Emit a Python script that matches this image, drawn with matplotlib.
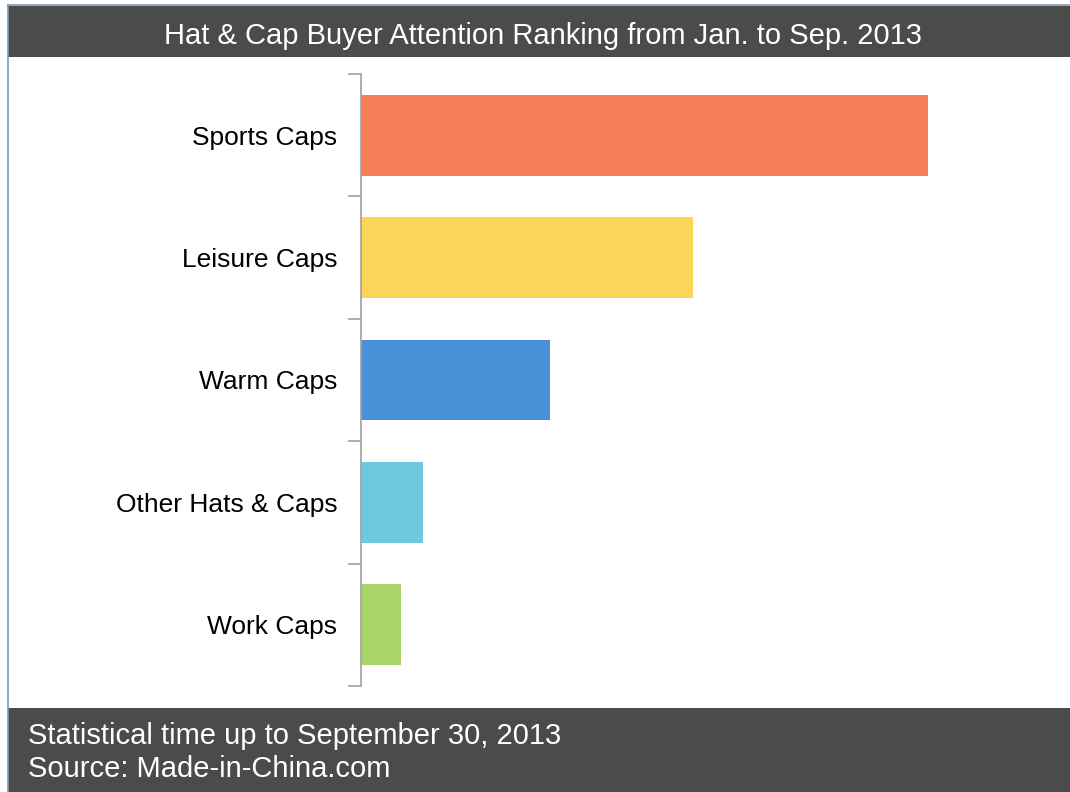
import matplotlib.pyplot as plt
from matplotlib.patches import Rectangle
from matplotlib.lines import Line2D
import numpy as np

plt.rcParams['font.family'] = ['Liberation Sans', 'DejaVu Sans']

categories = ['Sports Caps', 'Leisure Caps', 'Warm Caps', 'Other Hats & Caps', 'Work Caps']
attention = [567, 332, 189, 62, 40]
bar_colors = ['#F47F57', '#F9D65A', '#4A90D9', '#6EC8E0', '#A8D46A']

title = 'Hat & Cap Buyer Attention Ranking from Jan. to Sep. 2013'
footer = ['Statistical time up to September 30, 2013', 'Source: Made-in-China.com']

W, H = 1070, 792
fig = plt.figure(figsize=(W / 100, H / 100), dpi=100)
fig.patch.set_facecolor('white')

band = '#4B4B4B'
# header and footer bands
fig.patches.append(Rectangle((8 / W, 1 - 57 / H), 1, 51 / H, transform=fig.transFigure,
                             facecolor=band, edgecolor='none', zorder=0))
fig.patches.append(Rectangle((8 / W, 0), 1, 84 / H, transform=fig.transFigure,
                             facecolor=band, edgecolor='none', zorder=0))
fig.lines.append(Line2D([8 / W, 8 / W], [0, 1 - 5 / H], transform=fig.transFigure,
                        color='#7F97B8', lw=1.2))
fig.lines.append(Line2D([8 / W, 1], [1 - 5 / H, 1 - 5 / H], transform=fig.transFigure,
                        color='#7F97B8', lw=1.2))

fig.text(543 / W, 1 - 36 / H, title, color='white', fontsize=21,
         ha='center', va='center')
fig.text(28 / W, 1 - 736 / H, footer[0], color='white', fontsize=21, ha='left', va='center')
fig.text(28 / W, 1 - 769 / H, footer[1], color='white', fontsize=21, ha='left', va='center')

ax = fig.add_axes([361 / W, 1 - 686 / H, 640 / W, 612 / H])
y = np.arange(len(categories))
ax.barh(y, attention, height=0.66, color=bar_colors, edgecolor='none')
ax.set_ylim(len(categories) - 0.5, -0.5)
ax.set_xlim(0, 640)

ax.set_yticks(y)
ax.set_yticklabels(categories, fontsize=19)
ax.tick_params(axis='y', which='major', length=0, pad=17)
ax.set_yticks(np.arange(len(categories) + 1) - 0.5, minor=True)
ax.tick_params(axis='y', which='minor', length=9.5, width=1.2, color='#A0A0A0', direction='out')
ax.set_xticks([])
for side in ['top', 'right', 'bottom']:
    ax.spines[side].set_visible(False)
ax.spines['left'].set_color('#A0A0A0')
ax.spines['left'].set_linewidth(1.2)

fig.savefig('out.png', dpi=100)
